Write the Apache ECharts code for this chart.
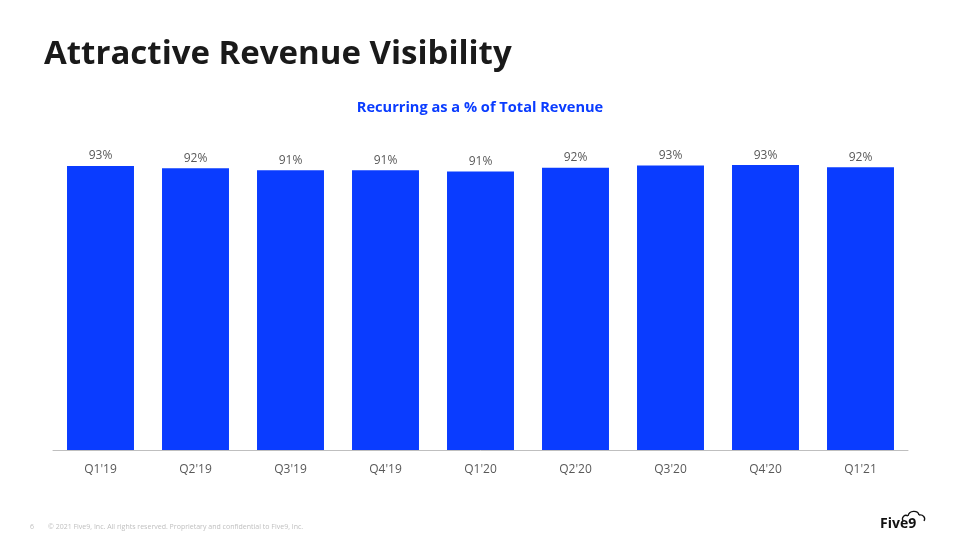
<!DOCTYPE html>
<html>
<head>
<meta charset="utf-8">
<script src="https://cdn.jsdelivr.net/npm/echarts@6/dist/echarts.min.js"></script>
<style>html,body{margin:0;padding:0;background:#fff;}#c{width:960px;height:540px;}</style>
</head>
<body>
<div id="c"></div>
<script>
const categories = ["Q1'19","Q2'19","Q3'19","Q4'19","Q1'20","Q2'20","Q3'20","Q4'20","Q1'21"];
const recurringPct = [92.8, 92.1, 91.4, 91.4, 91.0, 92.2, 93.0, 93.1, 92.4];
const barLabels = ["93%","92%","91%","91%","91%","92%","93%","93%","92%"];

const chart = echarts.init(document.getElementById('c'));
chart.setOption({
  backgroundColor: '#ffffff',
  animation: false,
  title: [
    { text: 'Attractive Revenue Visibility', left: 39, top: 33,
      textStyle: { fontFamily: 'Open Sans', fontWeight: 'bold', fontSize: 33, color: '#1a1a1a' } },
    { text: 'Recurring as a % of Total Revenue', left: 'center', top: 95,
      textStyle: { fontFamily: 'Open Sans', fontWeight: 'bold', fontSize: 14.6, color: '#0a3cff' } }
  ],
  grid: { left: 53, right: 52, top: 144, bottom: 90, containLabel: false },
  xAxis: {
    type: 'category', data: categories,
    axisLine: { lineStyle: { color: '#bfbfbf', width: 1 } },
    axisTick: { show: false },
    axisLabel: { color: '#595959', fontFamily: 'Open Sans', fontSize: 12, margin: 14 }
  },
  yAxis: { type: 'value', min: 0, max: 100, show: false, splitLine: { show: false } },
  series: [{
    type: 'bar', data: recurringPct, barCategoryGap: '29.5%',
    itemStyle: { color: '#0a3cff' },
    label: { show: true, position: 'top', distance: 4, color: '#595959',
      fontFamily: 'Open Sans', fontSize: 12,
      formatter: p => barLabels[p.dataIndex] }
  }],
  graphic: [
    { type: 'text', x: 30, y: 523, style: { text: '6', fontSize: 7, fill: '#bfbfbf', fontFamily: 'Open Sans' } },
    { type: 'text', x: 48, y: 523, style: { text: '© 2021 Five9, Inc. All rights reserved. Proprietary and confidential to Five9, Inc.', fontSize: 7, fill: '#bfbfbf', fontFamily: 'Open Sans' } },
    { type: 'text', x: 880, y: 517, style: { text: 'Five9', fontSize: 14, fontWeight: 'bold', fill: '#111', fontFamily: 'Open Sans' } },
    { type: 'bezierCurve', shape: { x1: 903, y1: 521, cpx1: 901, cpy1: 517, cpx2: 905, cpy2: 514, x2: 908, y2: 516 },
      style: { stroke: '#111', lineWidth: 1.3, fill: null } },
    { type: 'bezierCurve', shape: { x1: 908, y1: 516, cpx1: 909, cpy1: 510, cpx2: 918, cpy2: 510, x2: 919, y2: 515 },
      style: { stroke: '#111', lineWidth: 1.3, fill: null } },
    { type: 'bezierCurve', shape: { x1: 919, y1: 515, cpx1: 923, cpy1: 514, cpx2: 926, cpy2: 518, x2: 924, y2: 521 },
      style: { stroke: '#111', lineWidth: 1.3, fill: null } }
  ]
});
</script>
</body>
</html>
